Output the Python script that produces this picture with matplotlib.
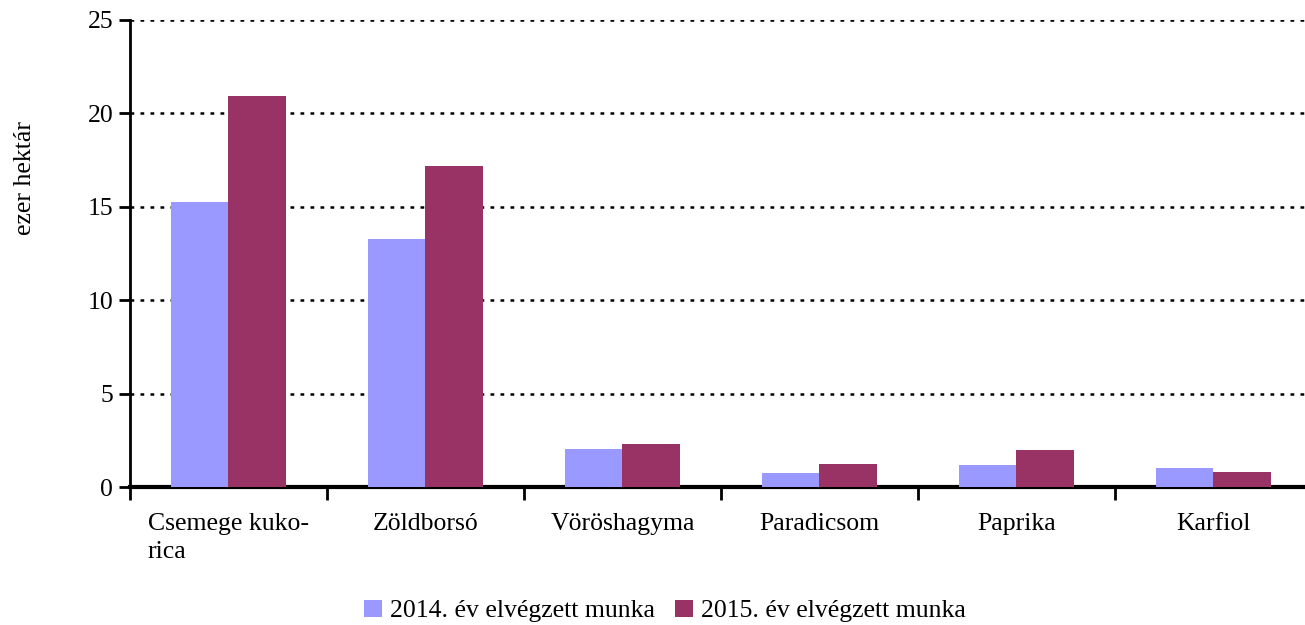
import numpy as np
import matplotlib
matplotlib.use("Agg")
import matplotlib.pyplot as plt
from matplotlib.ticker import FixedLocator, NullFormatter

# Data
categories = ["Csemege kuko-\nrica", "Zöldborsó", "Vöröshagyma", "Paradicsom", "Paprika", "Karfiol"]
work_2014 = [15.25, 13.3, 2.05, 0.75, 1.2, 1.0]
work_2015 = [20.95, 17.2, 2.3, 1.25, 2.0, 0.8]
series_labels = ["2014. év elvégzett munka", "2015. év elvégzett munka"]
colors = ["#9999FF", "#993366"]

plt.rcParams['font.family'] = ['Liberation Serif', 'DejaVu Serif']
FS = 18.5

fig = plt.figure(figsize=(13.05, 6.25), dpi=100)
ax = fig.add_axes([130 / 1305, 1 - 487 / 625, 1182 / 1305, 467 / 625])

x = np.arange(len(categories))
w = 0.29
ax.bar(x - w / 2, work_2014, width=w, color=colors[0], label=series_labels[0], zorder=3)
ax.bar(x + w / 2, work_2015, width=w, color=colors[1], label=series_labels[1], zorder=3)

ax.set_xlim(-0.5, len(categories) - 0.5)
ax.set_ylim(0, 25)
ax.set_yticks([0, 5, 10, 15, 20, 25])
ax.yaxis.grid(True, color="black", linestyle=(0, (1.5, 2.5)), linewidth=1.8)
ax.set_axisbelow(True)

# category labels centered, boundary ticks
ax.xaxis.set_major_locator(FixedLocator(np.arange(-0.5, len(categories), 1.0)))
ax.xaxis.set_major_formatter(NullFormatter())
ax.set_xticks(x, minor=True)
ax.set_xticklabels(categories, minor=True, multialignment="left", linespacing=1.35)
ax.tick_params(axis="x", which="minor", length=0, pad=19, labelsize=FS)
ax.tick_params(axis="x", which="major", length=9, width=2, direction="out")
ax.tick_params(axis="y", length=8, width=2, direction="out", labelsize=FS, pad=4)

for side in ["top", "right"]:
    ax.spines[side].set_visible(False)
ax.spines["left"].set_linewidth(2)
ax.spines["bottom"].set_linewidth(3)

fig.text(25 / 1305, 1 - 178 / 625, "ezer hektár", rotation=90, ha="center", va="center", fontsize=FS)

fig.legend(loc="center", bbox_to_anchor=(665 / 1305, 1 - 611 / 625), ncol=2,
           frameon=False, fontsize=FS, handlelength=0.7, handleheight=0.7,
           handletextpad=0.3, columnspacing=0.8)

fig.savefig("out.png", dpi=100)
